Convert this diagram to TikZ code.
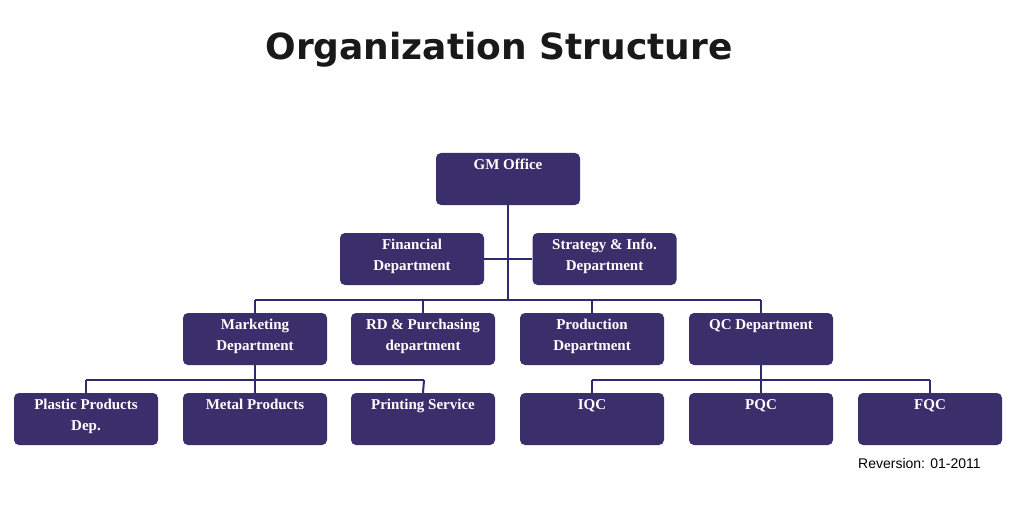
\documentclass[tikz,border=0pt]{standalone}
\usepackage{fontspec}
\setmainfont{Liberation Serif}
\newfontfamily\titlefont{DejaVu Sans}
\newfontfamily\arialfont{Liberation Sans}
\definecolor{boxc}{HTML}{3A2F6B}
\definecolor{linec}{HTML}{2E2A6E}
\begin{document}
\begin{tikzpicture}[x=1pt,y=-1pt,
  orgbox/.style={fill=boxc,rounded corners=5pt,minimum width=144pt,minimum height=52pt,inner sep=0pt},
  conn/.style={draw=linec,line width=2pt}]
\useasboundingbox (0,0) rectangle (1016,505);
\fill[white] (0,0) rectangle (1016,505);
\node[font=\titlefont\bfseries\fontsize{36}{40}\selectfont,text=black!90] (title) at (499,50) {Organization Structure};
\node[font=\arialfont\fontsize{14}{16}\selectfont,anchor=west,inner sep=0pt] (rev) at (858,463) {Reversion: 01-2011};
\coordinate (j0) at (508,300);
\coordinate (jl) at (255,300);
\coordinate (jr) at (761,300);
\coordinate (m1) at (255,380);
\coordinate (ml) at (86,380);
\coordinate (mr) at (424,380);
\coordinate (q1) at (761,380);
\coordinate (ql) at (592,380);
\coordinate (qr) at (930,380);
\newcommand{\orgb}[4]{\node[orgbox] (#1) at (#2,#3+26) {}; \node[text=white,font=\bfseries\fontsize{15}{21}\selectfont,align=center,anchor=north,inner sep=0pt] (#1t) at (#2,#3+6) {#4};}
\orgb{gm}{508}{153}{GM Office}
\orgb{fin}{412}{233}{Financial\\Department}
\orgb{str}{604.5}{233}{Strategy \& Info.\\Department}
\orgb{mkt}{255}{313}{Marketing\\Department}
\orgb{rd}{423}{313}{RD \& Purchasing\\department}
\orgb{pro}{592}{313}{Production\\Department}
\orgb{qc}{761}{313}{QC Department}
\orgb{pp}{86}{393}{Plastic Products\\Dep.}
\orgb{mp}{255}{393}{Metal Products}
\orgb{ps}{423}{393}{Printing Service}
\orgb{iqc}{592}{393}{IQC}
\orgb{pqc}{761}{393}{PQC}
\orgb{fqc}{930}{393}{FQC}
\draw[conn] (gm.south) -- (j0);
\draw[conn] (fin.east) -- (str.west);
\draw[conn] (jl) -- (jr);
\draw[conn] (jl) -- (mkt.north);
\draw[conn] (rd.north) -- (rd.north |- j0);
\draw[conn] (pro.north) -- (pro.north |- j0);
\draw[conn] (jr) -- (qc.north);
\draw[conn] (mkt.south) -- (m1);
\draw[conn] (ml) -- (mr);
\draw[conn] (ml) -- (pp.north);
\draw[conn] (m1) -- (mp.north);
\draw[conn] (mr) -- (ps.north);
\draw[conn] (qc.south) -- (q1);
\draw[conn] (ql) -- (qr);
\draw[conn] (ql) -- (iqc.north);
\draw[conn] (q1) -- (pqc.north);
\draw[conn] (qr) -- (fqc.north);
\end{tikzpicture}
\end{document}
